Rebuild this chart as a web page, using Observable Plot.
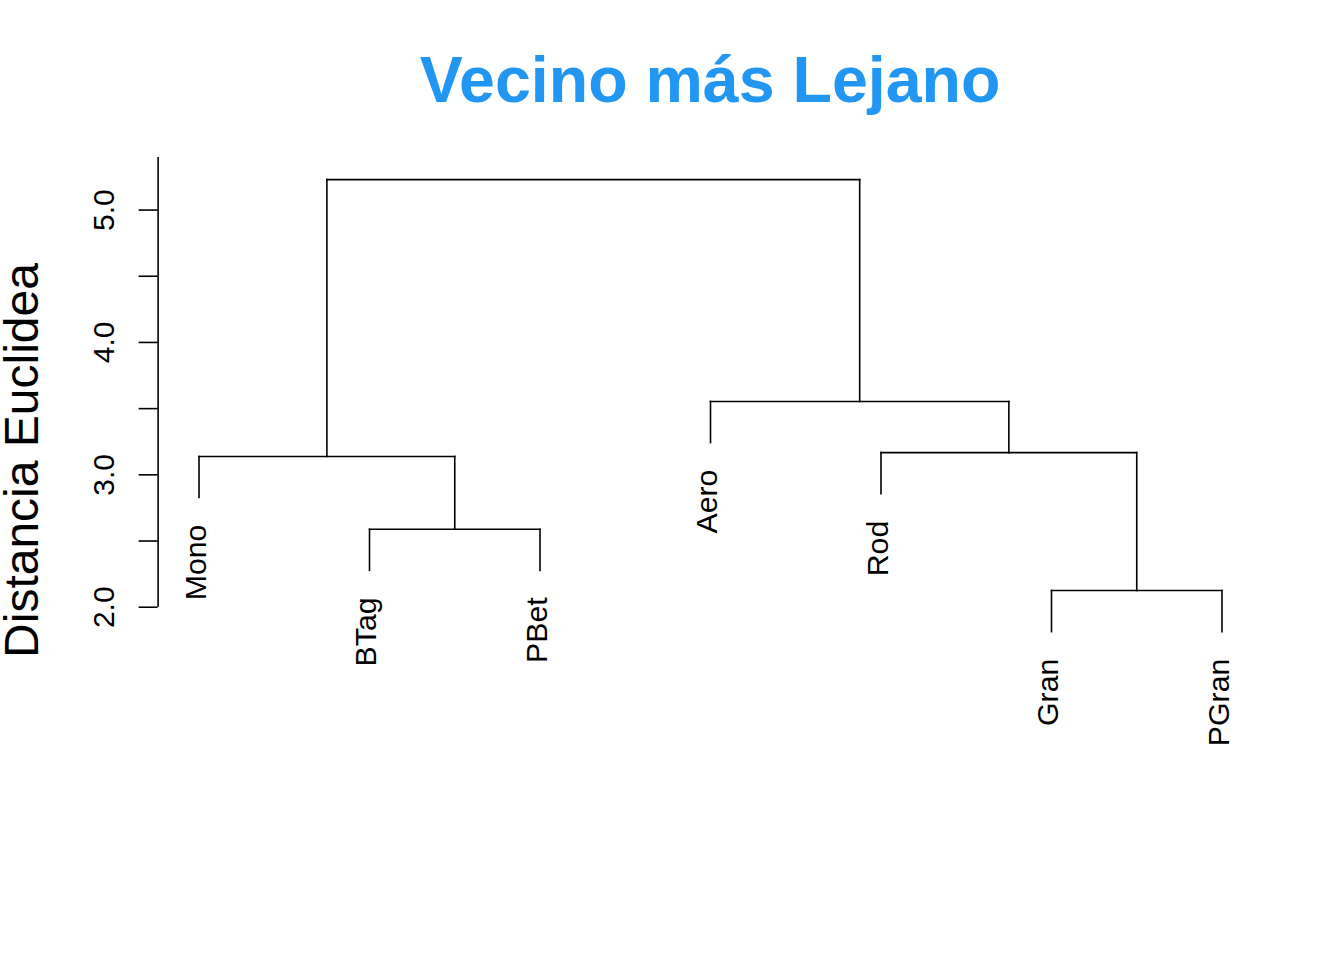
<!DOCTYPE html>
<html><head><meta charset="utf-8">
<script src="https://cdn.jsdelivr.net/npm/d3@7"></script>
<script src="https://cdn.jsdelivr.net/npm/@observablehq/plot@0.6"></script>
<style>
body{margin:0;background:#fff;}
#title{height:130px;box-sizing:border-box;padding-top:48px;padding-left:76px;width:1344px;text-align:center;font:bold 64.5px "Liberation Sans",Arial,sans-serif;line-height:64px;color:#2196F3;white-space:nowrap;}
#chart svg{display:block;}
</style></head><body>
<div id="title"></div>
<div id="chart"></div>
<script>
const title = "Vecino más Lejano";
const yLabel = "Distancia Euclidea";
const leaves = ["Mono", "BTag", "PBet", "Aero", "Rod", "Gran", "PGran"];
// R-style merge matrix: negative = leaf (1-based), positive = earlier merge step
const mergeLeft  = [-6, -2, -1, -5, -4, 3];
const mergeRight = [-7, -3,  2,  1,  4, 5];
const mergeHeight = [2.126, 2.589, 3.139, 3.168, 3.554, 5.230];
const yTicks = [2, 2.5, 3, 3.5, 4, 4.5, 5];
const yTickLabels = ["2.0", "", "3.0", "", "4.0", "", "5.0"];
const hangFrac = 0.1;

document.getElementById("title").textContent = title;

const hang = hangFrac * (d3.max(mergeHeight) - d3.min(mergeHeight));
const nodeX = [], nodeY = [];
const segs = [], leafPts = [];
function childPos(c, h) {
  if (c < 0) {
    const i = -c;
    leafPts.push({name: leaves[i - 1], x: i, y: h - hang});
    return {x: i, y: h - hang};
  }
  return {x: nodeX[c - 1], y: nodeY[c - 1]};
}
mergeHeight.forEach((h, k) => {
  const a = childPos(mergeLeft[k], h), b = childPos(mergeRight[k], h);
  segs.push({x1: a.x, y1: a.y, x2: a.x, y2: h},
            {x1: a.x, y1: h, x2: b.x, y2: h},
            {x1: b.x, y1: h, x2: b.x, y2: b.y});
  nodeX[k] = (a.x + b.x) / 2; nodeY[k] = h;
});

const xDomain = [0.76, 7.24];
const yDomain = [0.8195, 5.397];
const chart = Plot.plot({
  width: 1344, height: 830,
  marginLeft: 157.6, marginRight: 81.6, marginTop: 27, marginBottom: 197,
  x: {domain: xDomain, range: [157.6, 1262.4], axis: null},
  y: {domain: yDomain, range: [633, 27], axis: null},
  style: {fontFamily: '"Liberation Sans", Arial, sans-serif', background: "white", color: "black", overflow: "visible"},
  marks: [
    Plot.link(segs, {x1: "x1", y1: "y1", x2: "x2", y2: "y2", stroke: "black", strokeWidth: 1.6, strokeLinecap: "square"}),
    Plot.ruleX([xDomain[0]], {y1: yTicks[0], y2: yDomain[1], stroke: "black", strokeWidth: 1.6}),
    Plot.axisY(yTicks, {anchor: "left", label: null, tickSize: 19, tickPadding: 25, tickRotate: -90,
      tickFormat: d => yTickLabels[yTicks.indexOf(d)], fontSize: 30, strokeWidth: 1.6}),
    Plot.text(leafPts, {x: "x", y: "y", text: "name", rotate: -90, textAnchor: "end", dy: 27, dx: -3, fontSize: 30.3}),
    Plot.text([yLabel], {frameAnchor: "left", rotate: -90, textAnchor: "middle", lineAnchor: "bottom", dx: -120, fontSize: 48})
  ]
});
document.getElementById("chart").appendChild(chart);
</script>
</body></html>
